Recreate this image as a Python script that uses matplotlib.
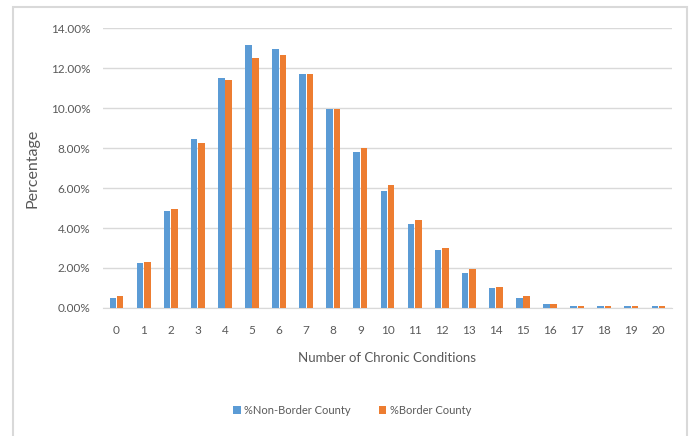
import matplotlib.pyplot as plt
import matplotlib.ticker as mticker
from matplotlib.patches import Rectangle
import numpy as np

plt.rcParams["font.family"] = ["Lato", "DejaVu Sans"]

conditions = list(range(21))
non_border = [0.50, 2.25, 4.85, 8.45, 11.50, 13.15, 12.95, 11.70, 9.95, 7.80,
              5.85, 4.20, 2.90, 1.77, 0.98, 0.48, 0.20, 0.10, 0.10, 0.10, 0.10]
border = [0.60, 2.30, 4.95, 8.25, 11.40, 12.50, 12.65, 11.70, 9.95, 8.00,
          6.15, 4.40, 3.00, 1.95, 1.07, 0.58, 0.20, 0.10, 0.10, 0.10, 0.10]
y_ticks = [0, 2, 4, 6, 8, 10, 12, 14]

BLUE = "#5B9BD5"
ORANGE = "#ED7D31"
TEXT = "#595959"

W, H = 691, 436
fig = plt.figure(figsize=(W / 100, H / 100), dpi=100)
ax = fig.add_axes([103 / W, 1 - 308 / H, (672 - 103) / W, (308 - 28) / H])

xs = np.array(conditions)
bw = 0.24
ax.bar(xs - 0.135, non_border, width=bw, color=BLUE, label="%Non-Border County", zorder=3)
ax.bar(xs + 0.135, border, width=bw, color=ORANGE, label="%Border County", zorder=3)

ax.set_xlim(-0.5, 20.5)
ax.set_ylim(0, 14)
ax.set_yticks(y_ticks)
ax.yaxis.set_major_formatter(mticker.FuncFormatter(lambda v, p: f"{v:.2f}%"))
ax.set_xticks(xs)
ax.set_xticklabels([str(c) for c in conditions])
ax.tick_params(length=0, labelsize=8.5, colors=TEXT, pad=9)
ax.tick_params(axis="x", pad=12)
ax.grid(axis="y", color="#D9D9D9", linewidth=1, zorder=0)
for s in ["top", "right", "left"]:
    ax.spines[s].set_visible(False)
ax.spines["bottom"].set_color("#D9D9D9")

ax.set_xlabel("Number of Chronic Conditions", fontsize=9.5, color=TEXT, labelpad=12)
ax.set_ylabel("Percentage", fontsize=11.5, color=TEXT, labelpad=8)

fig.legend(loc="center", bbox_to_anchor=(352 / W, 1 - 410 / H), ncol=2, frameon=False,
           fontsize=8, labelcolor=TEXT, handlelength=0.7, handleheight=0.7,
           handletextpad=0.3, columnspacing=2.5)

fig.patches.append(Rectangle((13 / W, -0.05), (687 - 13) / W, 1.05 - 7 / H,
                             transform=fig.transFigure, fill=False,
                             edgecolor="#D9D9D9", linewidth=1.5))

fig.savefig("out.png", dpi=100)
